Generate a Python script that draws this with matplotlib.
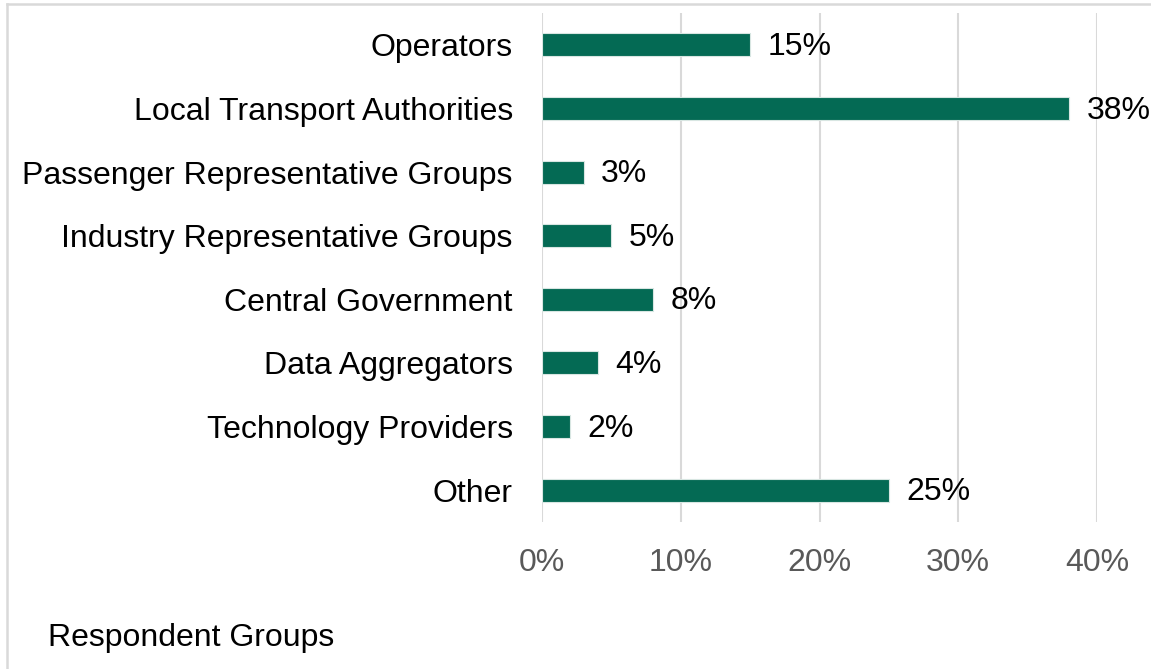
import matplotlib
matplotlib.use("Agg")
import matplotlib.pyplot as plt
from matplotlib.lines import Line2D
from matplotlib.ticker import FuncFormatter

categories = ["Operators", "Local Transport Authorities", "Passenger Representative Groups",
              "Industry Representative Groups", "Central Government", "Data Aggregators",
              "Technology Providers", "Other"]
values = [15, 38, 3, 5, 8, 4, 2, 25]
xticks = [0, 10, 20, 30, 40]
title = "Respondent Groups"

bar_color = "#046A54"
num_family = ["Liberation Sans Narrow", "Liberation Sans", "DejaVu Sans"]
plt.rcParams["font.family"] = ["Liberation Sans", "DejaVu Sans"]

W, H = 1151, 669
fig = plt.figure(figsize=(W / 100, H / 100), dpi=100)
ax = fig.add_axes([542 / W, 1 - 522 / H, (1097 - 542) / W, (522 - 13) / H])

y = list(range(len(categories)))
ax.barh(y, values, height=0.36, color=bar_color, edgecolor="#d8e6e2", linewidth=0.8, zorder=3)
ax.set_ylim(len(categories) - 0.5, -0.5)
ax.set_xlim(0, 40)
ax.set_yticks(y)
ax.set_yticklabels(categories, fontsize=23, color="black")
ax.set_xticks(xticks)
ax.xaxis.set_major_formatter(FuncFormatter(lambda v, p: f"{v:.0f}%"))
for lbl in ax.get_xticklabels():
    lbl.set_family(num_family)
ax.tick_params(axis="x", labelsize=23, labelcolor="#595959", length=0, pad=19)
ax.tick_params(axis="y", length=0, pad=21)
ax.grid(axis="x", color="#d9d9d9", linewidth=1.5, zorder=0)
for s in ax.spines.values():
    s.set_visible(False)

for yi, v in zip(y, values):
    ax.annotate(f"{v}%", (v, yi), xytext=(12.5, -1.5), textcoords="offset points",
                va="center", ha="left", fontsize=23, color="black", family=num_family)

fig.text(48 / W, 1 - 638 / H, title, fontsize=23, va="center", ha="left", color="black")

fig.add_artist(Line2D([7 / W, 7 / W], [0, 1 - 4 / H], transform=fig.transFigure, color="#d9d9d9", linewidth=1.8))
fig.add_artist(Line2D([7 / W, 1], [1 - 4 / H, 1 - 4 / H], transform=fig.transFigure, color="#d9d9d9", linewidth=1.8))

fig.savefig("out.png", dpi=100)
